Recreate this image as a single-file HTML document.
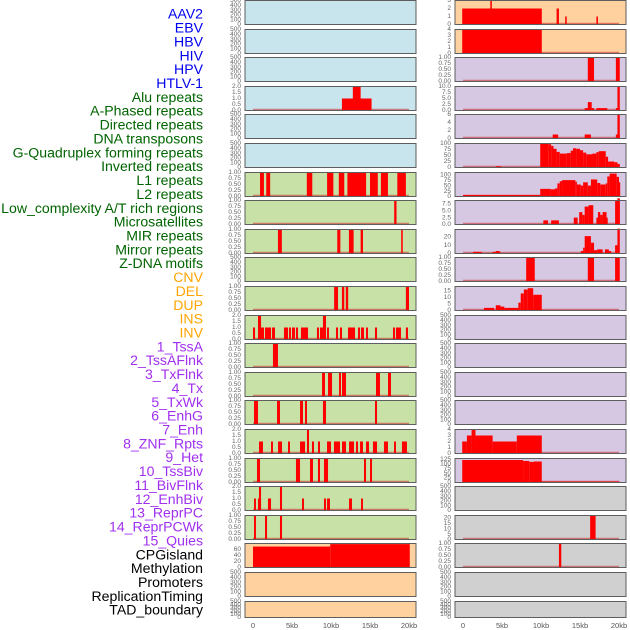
<!DOCTYPE html>
<html><head><meta charset="utf-8">
<style>
html,body{margin:0;padding:0;background:#fff;}
svg{display:block;font-family:"Liberation Sans",sans-serif;}
</style></head>
<body>
<svg id="chart" width="630" height="630" viewBox="0 0 630 630"></svg>
<script>
// ---- track labels ----
const labelTexts = ["AAV2","EBV","HBV","HIV","HPV","HTLV-1","Alu repeats","A-Phased repeats","Directed repeats","DNA transposons","G-Quadruplex forming repeats","Inverted repeats","L1 repeats","L2 repeats","Low_complexity A/T rich regions","Microsatellites","MIR repeats","Mirror repeats","Z-DNA motifs","CNV","DEL","DUP","INS","INV","1_TssA","2_TssAFlnk","3_TxFlnk","4_Tx","5_TxWk","6_EnhG","7_Enh","8_ZNF_Rpts","9_Het","10_TssBiv","11_BivFlnk","12_EnhBiv","13_ReprPC","14_ReprPCWk","15_Quies","CPGisland","Methylation","Promoters","ReplicationTiming","TAD_boundary"];
const labelColors = ["#0000ee","#006400","#ffa500","#a030f0","#000000"];
const labelGroups = [0,0,0,0,0,0,1,1,1,1,1,1,1,1,1,1,1,1,1,2,2,2,2,2,3,3,3,3,3,3,3,3,3,3,3,3,3,3,3,4,4,4,4,4];
const leftBg  = ["#c8e4ec","#c8e4ec","#c8e4ec","#c8e4ec","#c8e4ec","#c8e4ec","#c7e1a6","#c7e1a6","#c7e1a6","#c7e1a6","#c7e1a6","#c7e1a6","#c7e1a6","#c7e1a6","#c7e1a6","#c7e1a6","#c7e1a6","#c7e1a6","#c7e1a6","#ffd19e","#ffd19e","#ffd19e"];
const rightBg = ["#ffd19e","#ffd19e","#d6c7e3","#d6c7e3","#d6c7e3","#d6c7e3","#d6c7e3","#d6c7e3","#d6c7e3","#d6c7e3","#d6c7e3","#d6c7e3","#d6c7e3","#d6c7e3","#d6c7e3","#d6c7e3","#d6c7e3","#d0d0d0","#d0d0d0","#d0d0d0","#d0d0d0","#d0d0d0"];
const xTickValues = [0,5,10,15,20];
const xTickLabels = ["0","5kb","10kb","15kb","20kb"];

// ---- segment data [startKb, endKb, value] ----
const segL3  = [[11.4,15.2,1],[12.8,13.8,2]];
const segL6  = [[0.9,1.4,1],[1.7,2.2,1],[6.9,7.6,1],[9.5,10.3,1],[11.0,11.7,1],[12.1,14.5,1],[15.0,16.0,1],[16.4,17.3,1],[18.5,19.6,1]];
const segL7  = [[18.1,18.4,1]];
const segL8  = [[3.2,3.7,1],[10.8,11.2,1],[12.3,12.9,1],[13.8,14.1,1],[19.0,19.2,1]];
const segL10 = [[10.4,10.9,1],[11.4,11.7,1],[11.9,12.2,1],[19.6,20.0,1]];
const segL11 = [[0,0.26,1],[0.64,1.41,1],[0.64,1.03,2],[1.54,2.31,1],[2.44,2.82,1],[3.97,4.49,1],[4.62,4.87,1],[5.0,5.38,1],[5.51,5.77,1],[6.15,7.05,1],[8.2,8.46,1],[8.59,9.36,1],[8.97,9.36,2],[9.49,9.74,1],[10.64,10.9,1],[11.15,11.41,1],[12.18,13.08,1],[13.46,13.72,1],[13.85,14.23,1],[14.49,14.74,1],[15.64,15.9,1],[17.95,18.2,1],[18.33,18.97,1],[19.6,19.87,1]];
const segL12 = [[2.56,3.2,1]];
const segL13 = [[8.85,9.23,1],[9.62,10.13,1],[11.03,11.28,1],[11.41,11.92,1],[15.77,16.28,1],[17.31,17.69,1]];
const segL14 = [[0.13,0.64,1],[3.08,3.46,1],[6.03,6.41,1],[6.67,6.92,1],[8.97,9.36,1],[15.64,15.9,1]];
const segL15 = [[0.77,1.28,1],[2.31,2.56,1],[3.21,3.72,1],[4.49,4.74,1],[6.03,6.67,1],[6.92,7.18,2],[7.56,7.82,1],[8.33,8.59,1],[9.49,10.0,1],[10.38,11.15,1],[11.41,11.92,1],[12.31,12.95,1],[13.21,13.46,1],[13.72,14.1,1],[14.49,14.87,1],[15.38,15.9,1],[16.79,17.31,1],[18.08,18.33,1],[19.1,19.74,1]];
const segL16 = [[0.51,0.9,1],[5.51,6.03,1],[7.31,7.69,1],[8.33,8.59,1],[9.1,9.62,1],[14.23,14.49,1],[15.0,15.26,1]];
const segL17 = [[0.13,0.38,1],[0.64,1.03,1],[0.77,1.03,2],[1.92,2.31,1],[3.46,3.72,2],[6.28,6.54,1],[9.1,9.36,1],[9.49,9.87,1],[12.31,12.69,1],[13.85,14.1,1]];
const segL18 = [[0.13,0.38,1],[1.54,1.8,1],[3.46,3.72,1]];
const segL19 = [[0,9.9,68],[9.9,20.1,76]];
const segR0  = [[-0.1,10.1,2],[3.5,3.7,3],[12.0,12.3,2],[13.1,13.3,1],[17.1,17.3,1]];
const segR1  = [[-0.1,10.1,4]];
const segR2  = [[16.0,16.8,1],[19.6,20.1,1]];
const segR3  = [[15.6,16.8,1],[16.0,16.5,3.5],[17.1,18.5,1],[19.6,20.1,1],[19.8,20.1,10]];
const segR4  = [[11.5,12.2,1],[15.6,16.4,1],[19.6,20.1,1],[19.8,20.1,6]];
const segR5  = [[4.2,4.9,5],[9.9,11.0,100],[11.0,11.3,97],[11.3,11.6,90],[11.6,12.0,78],[12.0,12.4,65],[12.4,13.3,58],[13.3,13.8,60],[13.8,14.1,70],[14.1,14.5,80],[14.5,15.0,78],[15.0,15.4,72],[15.4,15.8,62],[15.8,16.6,55],[16.6,17.1,58],[17.1,17.4,64],[17.4,18.3,68],[18.3,18.6,45],[18.6,19.4,25],[19.4,19.8,22],[19.8,20.1,15]];
const segR6  = [[0,9.9,7],[9.9,11.2,35],[11.2,11.8,33],[11.8,12.1,37],[12.1,12.4,60],[12.4,12.7,70],[12.7,14.4,75],[14.4,14.6,68],[14.6,15.1,55],[15.1,15.4,50],[15.4,16.0,65],[16.0,16.4,50],[16.4,17.2,78],[17.2,17.6,62],[17.6,18.3,55],[18.3,18.5,60],[18.5,18.8,92],[18.8,19.7,105],[19.7,20.0,90],[20.0,20.1,65]];
const segR7  = [[10.3,10.9,1.5],[11.3,12.3,1.5],[14.2,14.7,2.5],[14.9,15.3,4.5],[15.3,15.6,3.5],[15.6,16.1,6.5],[16.1,16.7,7],[17.1,17.6,2.5],[17.3,17.6,4.5],[17.6,17.9,3.5],[17.9,18.4,4.5],[18.4,18.5,2.5],[19.5,20.1,8.5],[19.8,20.1,9.5]];
const segR8  = [[1.3,2.4,2],[3.8,4.8,2],[4.2,4.7,3],[15.1,15.5,3],[15.4,15.6,7],[15.6,16.4,21],[16.4,16.8,13],[16.8,17.2,4],[17.2,17.9,5],[18.2,18.7,5],[18.7,19.0,3],[19.5,19.8,10],[19.8,20.1,30]];
const segR9  = [[8.1,9.2,1],[16.0,16.8,1],[19.5,20.1,1]];
const segR10 = [[2.7,4.0,2],[4.2,4.8,4],[4.8,5.3,3],[5.3,7.1,2],[7.1,7.4,6],[7.4,7.8,13],[7.8,8.3,16],[8.3,9.0,17],[9.0,10.1,12]];
const segR15 = [[-0.1,0.5,2],[0.5,1.1,3],[1.1,1.6,4],[1.6,3.8,3],[3.8,6.9,2],[6.9,10.1,3]];
const segR16 = [[-0.1,7.7,120],[7.7,8.5,115],[8.5,9.1,110],[9.1,10.1,112],[10.1,20.1,5]];
const segR18 = [[16.3,17.0,22]];
const segR19 = [[12.3,12.6,1]];

// y ranges and tick labels per data panel
const ticks1 = ["0.00","0.25","0.50","0.75","1.00"];
const ticks2 = ["0.0","0.5","1.0","1.5","2.0"];
const ticksEmpty = ["0","100","200","300","400","500"];
const leftData = {3:[segL3,2,ticks2],6:[segL6,1,ticks1],7:[segL7,1,ticks1],8:[segL8,1,ticks1],10:[segL10,1,ticks1],11:[segL11,2,ticks2],12:[segL12,1,ticks1],13:[segL13,1,ticks1],14:[segL14,1,ticks1],15:[segL15,2,ticks2],16:[segL16,1,ticks1],17:[segL17,2,ticks2],18:[segL18,1,ticks1],19:[segL19,78,["0","20","40","60"]]};
const rightData = {0:[segR0,3,["0","1","2","3"]],1:[segR1,4,["0","1","2","3","4"]],2:[segR2,1,ticks1],3:[segR3,10,["0.0","2.5","5.0","7.5","10.0"]],4:[segR4,6,["0","2","4","6"]],5:[segR5,100,["0","25","50","75","100"]],6:[segR6,110,["0","25","50","75","100"]],7:[segR7,8.7,["0.0","2.5","5.0","7.5"]],8:[segR8,29,["0","10","20"]],9:[segR9,1,ticks1],10:[segR10,18.3,["0","5","10","15"]],15:[segR15,4,["0","1","2","3","4"]],16:[segR16,128,["0","25","50","75","100","125"]],18:[segR18,22,["0","5","10","15","20"]],19:[segR19,1,ticks1]};

const NS="http://www.w3.org/2000/svg";
const svg=document.getElementById('chart');
function mk(tag,attrs,parent){const e=document.createElementNS(NS,tag);for(const k in attrs)e.setAttribute(k,attrs[k]);(parent||svg).appendChild(e);return e;}

// labels
labelTexts.forEach((t,i)=>{
  const e=mk('text',{x:203,y:15+i*13.86,'text-anchor':'end','dominant-baseline':'middle','font-size':'14.1',fill:labelColors[labelGroups[i]]});
  e.textContent=t;
  
  
});

const cols=[{x0:245,w:171,zero:253,bg:leftBg,data:leftData,side:'left'},{x0:455,w:171,zero:463,bg:rightBg,data:rightData,side:'right'}];
const pxPerKb=7.8;
cols.forEach(c=>{
  const xs=kb=>c.zero+kb*pxPerKb;
  for(let r=0;r<22;r++){
    const top=Math.round(r*28.6)+0.5;
    const h=r===21?16:24;
    const bottom=top+h;
    const g=mk('g',{});
    
    
    mk('rect',{x:c.x0,y:top,width:c.w,height:h,fill:c.bg[r],stroke:'none'},g);
    const d=c.data[r];
    const seg=d?d[0]:null, max=d?d[1]:500, tl=d?d[2]:ticksEmpty;
    const ys=v=>bottom-v/max*h;
    if(seg){
      mk('line',{x1:xs(0),x2:xs(20),y1:bottom-1,y2:bottom-1,stroke:'rgba(205,40,40,0.55)','stroke-width':1.5},g);
      seg.forEach(s=>{
        const b=mk('rect',{x:xs(s[0]),y:ys(s[2]),width:Math.max(1.2,(s[1]-s[0])*pxPerKb),height:bottom-ys(s[2]),fill:'#ff0000'},g);
        
        
      });
    }
    mk('rect',{x:c.x0,y:top,width:c.w,height:h,fill:'none',stroke:'#5e5e5e','stroke-width':1},g);
    tl.forEach(t=>{
      const e=mk('text',{x:c.x0-4,y:ys(parseFloat(t)),'text-anchor':'end','dominant-baseline':'middle','font-size':'6.5',fill:'#666'},g);
      e.textContent=t;
      
      
    });
  }
  xTickValues.forEach((v,i)=>{
    const e=mk('text',{x:xs(v),y:628,'text-anchor':'middle','font-size':'7.5',fill:'#555'});
    e.textContent=xTickLabels[i];
    
    
  });
});
</script>
</body></html>
